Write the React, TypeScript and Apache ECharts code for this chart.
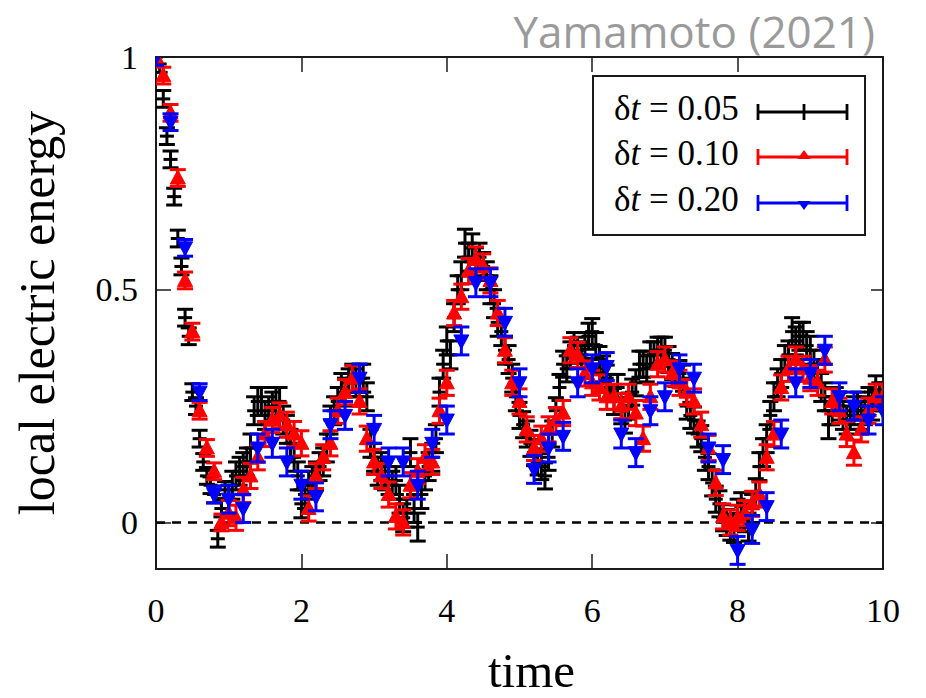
import React, { useEffect, useRef } from "react";
import * as echarts from "echarts";

// ---- data ----
const xTicks = [0, 2, 4, 6, 8, 10];
const yTicks = [0, 0.5, 1];

const blackStep = 0.05;
const blackValues = [
  1.0, 0.985, 0.91, 0.83, 0.78, 0.7, 0.61, 0.55, 0.44, 0.4,
  0.28, 0.25, 0.18, 0.13, 0.1, 0.08, 0.06, -0.035, 0.03, 0.07,
  0.05, 0.08, 0.1, 0.11, 0.12, 0.13, 0.16, 0.24, 0.26, 0.26,
  0.23, 0.24, 0.25, 0.26, 0.26, 0.22, 0.2, 0.17, 0.14, 0.1,
  0.04, 0.06, 0.08, 0.09, 0.1, 0.12, 0.13, 0.16, 0.22, 0.24,
  0.26, 0.29, 0.28, 0.3, 0.31, 0.3, 0.31, 0.31, 0.27, 0.17,
  0.14, 0.11, 0.12, 0.1, 0.09, 0.08, 0.09, 0.05, 0.01, 0.02,
  0.15, 0.03, -0.01, 0.06, 0.1, 0.12, 0.14, 0.18, 0.28, 0.34,
  0.39, 0.36, 0.44, 0.5, 0.53, 0.6, 0.57, 0.59, 0.56, 0.57,
  0.55, 0.53, 0.5, 0.47, 0.43, 0.41, 0.37, 0.35, 0.31, 0.27,
  0.23, 0.21, 0.19, 0.17, 0.15, 0.13, 0.12, 0.1, 0.14, 0.19,
  0.24, 0.29, 0.34, 0.33, 0.36, 0.38, 0.37, 0.36, 0.38, 0.4,
  0.41, 0.38, 0.35, 0.33, 0.31, 0.29, 0.26, 0.29, 0.24, 0.22,
  0.25, 0.28, 0.3, 0.34, 0.34, 0.33, 0.36, 0.36, 0.37, 0.37,
  0.37, 0.35, 0.335, 0.32, 0.32, 0.31, 0.25, 0.23, 0.22, 0.19,
  0.18, 0.14, 0.12, 0.085, 0.05, 0.04, 0.01, 0.0, -0.01, -0.015,
  0.02, 0.034, 0.01, -0.01, 0.03, 0.064, 0.12, 0.15, 0.18, 0.23,
  0.27, 0.3, 0.32, 0.35, 0.36, 0.41, 0.39, 0.4, 0.4, 0.38,
  0.37, 0.34, 0.32, 0.29, 0.27, 0.21, 0.24, 0.26, 0.25, 0.23,
  0.22, 0.23, 0.24, 0.25, 0.23, 0.24, 0.26, 0.25, 0.285, 0.27,
  0.27,
];
const blackErrors = [0.018, 0.03, 0.03, 0.03, 0.03, 0.028, 0.028, 0.028, 0.03, 0.03];

const redStep = 0.1;
const redValues = [
  1.0, 0.96, 0.88, 0.74, 0.52, 0.41, 0.24, 0.16, 0.11, 0.0,
  0.02, 0.01, 0.07, 0.1, 0.14, 0.19, 0.22, 0.23, 0.21, 0.19,
  0.17, 0.03, 0.1, 0.14, 0.17, 0.24, 0.28, 0.31, 0.26, 0.18,
  0.13, 0.1, 0.06, 0.013, 0.0, 0.08, 0.11, 0.14, 0.13, 0.24,
  0.3, 0.45, 0.485, 0.54, 0.565, 0.55, 0.52, 0.45, 0.37, 0.3,
  0.26, 0.2, 0.16, 0.18, 0.2, 0.22, 0.235, 0.37, 0.36, 0.32,
  0.3, 0.29, 0.27, 0.27, 0.25, 0.27, 0.235, 0.18, 0.27, 0.34,
  0.35, 0.32, 0.3, 0.28, 0.26, 0.21, 0.16, 0.085, 0.013, 0.0,
  0.01, 0.02, 0.04, 0.06, 0.14, 0.19, 0.29, 0.33, 0.35, 0.33,
  0.31, 0.3, 0.35, 0.26, 0.24, 0.19, 0.15, 0.2, 0.24, 0.27,
  0.27,
];
const redErrors = [0.018, 0.027, 0.027, 0.027, 0.027, 0.027, 0.027, 0.027, 0.027, 0.027];

const blueStep = 0.2;
const blueValues = [
  1.0, 0.86, 0.59, 0.28, 0.06, 0.05, 0.03, 0.16, 0.17, 0.13,
  0.08, 0.055, 0.21, 0.23, 0.31, 0.2, 0.13, 0.13, 0.08, 0.17,
  0.22, 0.39, 0.515, 0.515, 0.43, 0.3, 0.114, 0.16, 0.185, 0.3,
  0.33, 0.335, 0.19, 0.15, 0.24, 0.27, 0.33, 0.31, 0.16, 0.135,
  -0.06, -0.015, 0.034, 0.19, 0.3, 0.32, 0.37, 0.27, 0.25, 0.22,
  0.24,
];
const blueErrors = [0.018, 0.03, 0.03, 0.03, 0.03, 0.03, 0.03, 0.03, 0.03, 0.03];

const legendLabels = ["0.05", "0.10", "0.20"];
const titleText = "Yamamoto (2021)";

const BLACK = "#000000";
const RED = "#ff0000";
const BLUE = "#0000ff";
const SERIF = "'Liberation Serif', 'Times New Roman', serif";

function buildData(values: number[], step: number, errs: number[]) {
  return values.map((v, i) => {
    const t = +(i * step).toFixed(3);
    const seg = Math.min(errs.length - 1, Math.floor(t));
    return [t, v, errs[seg]];
  });
}

function makeRender(color: string, marker: string) {
  return (params: any, api: any) => {
    const t = api.value(0);
    const v = api.value(1);
    const e = api.value(2);
    const p = api.coord([t, v]);
    const top = api.coord([t, v + e]);
    const bot = api.coord([t, v - e]);
    const hw = 8;
    const style = { stroke: color, lineWidth: 3, fill: null };
    const children: any[] = [
      { type: "line", shape: { x1: p[0], y1: top[1], x2: p[0], y2: bot[1] }, style },
      { type: "line", shape: { x1: p[0] - hw, y1: top[1], x2: p[0] + hw, y2: top[1] }, style },
      { type: "line", shape: { x1: p[0] - hw, y1: bot[1], x2: p[0] + hw, y2: bot[1] }, style },
    ];
    if (marker === "plus") {
      children.push({ type: "line", shape: { x1: p[0] - 7, y1: p[1], x2: p[0] + 7, y2: p[1] }, style });
    } else if (marker === "up") {
      children.push({
        type: "polygon",
        shape: { points: [[p[0], p[1] - 8], [p[0] - 7.5, p[1] + 6], [p[0] + 7.5, p[1] + 6]] },
        style: { fill: color, stroke: color, lineWidth: 1 },
      });
    } else if (marker === "down") {
      children.push({
        type: "polygon",
        shape: { points: [[p[0], p[1] + 8], [p[0] - 7.5, p[1] - 6], [p[0] + 7.5, p[1] - 6]] },
        style: { fill: color, stroke: color, lineWidth: 1 },
      });
    }
    return { type: "group", children };
  };
}

function legendRow(y: number, label: string, color: string, marker: string) {
  const x1 = 758;
  const x2 = 847;
  const xm = 804;
  const st = { stroke: color, lineWidth: 2.8 };
  const items: any[] = [
    {
      type: "text",
      left: 614,
      top: y - 21,
      style: {
        text: "{d|δ}{i|t}{d| = " + label + "}",
        rich: {
          d: { fontFamily: SERIF, fontSize: 35, fill: "#000" },
          i: { fontFamily: SERIF, fontSize: 35, fontStyle: "italic", fill: "#000" },
        },
      },
    },
    { type: "line", shape: { x1, y1: y, x2, y2: y }, style: st },
    { type: "line", shape: { x1, y1: y - 8, x2: x1, y2: y + 8 }, style: st },
    { type: "line", shape: { x1: x2, y1: y - 8, x2, y2: y + 8 }, style: st },
  ];
  if (marker === "plus") {
    items.push({ type: "line", shape: { x1: xm, y1: y - 8, x2: xm, y2: y + 8 }, style: st });
  } else if (marker === "up") {
    items.push({ type: "polygon", shape: { points: [[xm, y - 7], [xm - 6.5, y + 2], [xm + 6.5, y + 2]] }, style: { fill: color } });
  } else {
    items.push({ type: "polygon", shape: { points: [[xm, y + 7], [xm - 6.5, y - 2], [xm + 6.5, y - 2]] }, style: { fill: color } });
  }
  return items;
}

export default function App() {
  const ref = useRef<HTMLDivElement>(null);
  useEffect(() => {
    if (!ref.current) return;
    const chart = echarts.init(ref.current, null, { renderer: "svg" });
    const axisLineStyle = { color: "#1a1a1a", width: 2 };
    const option: any = {
      animation: false,
      backgroundColor: "#ffffff",
      title: {
        text: titleText,
        right: 46,
        top: 4,
        textStyle: { color: "#9a9a9a", fontSize: 44, fontFamily: "'Open Sans', 'Noto Sans', sans-serif", fontWeight: "normal" },
      },
      grid: { left: 156, right: 43, top: 57, bottom: 129, containLabel: false, outerBoundsMode: "none" },
      xAxis: [
        {
          type: "value",
          min: 0,
          max: 10,
          interval: 2,
          position: "bottom",
          name: "time",
          nameLocation: "middle",
          nameGap: 77,
          nameTextStyle: { fontFamily: SERIF, fontSize: 49, color: "#000", padding: [0, 0, 0, 24] },
          axisLine: { show: true, onZero: false, lineStyle: axisLineStyle },
          axisTick: { show: true, inside: true, length: 15, lineStyle: { color: "#1a1a1a", width: 1.5 }, customValues: xTicks },
          axisLabel: { margin: 24, fontFamily: SERIF, fontSize: 34, color: "#000", customValues: xTicks },
          splitLine: { show: false },
        },
        {
          type: "value",
          min: 0,
          max: 10,
          interval: 2,
          position: "top",
          axisLine: { show: true, onZero: false, lineStyle: axisLineStyle },
          axisTick: { show: true, inside: true, length: 15, lineStyle: { color: "#1a1a1a", width: 1.5 } },
          axisLabel: { show: false },
          splitLine: { show: false },
        },
      ],
      yAxis: [
        {
          type: "value",
          min: -0.1,
          max: 1,
          position: "left",
          name: "local electric energy",
          nameLocation: "middle",
          nameGap: 94,
          nameTextStyle: { fontFamily: SERIF, fontSize: 50, color: "#000" },
          axisLine: { show: true, onZero: false, lineStyle: axisLineStyle },
          axisTick: { show: true, inside: true, length: 15, lineStyle: { color: "#1a1a1a", width: 1.5 }, customValues: yTicks },
          axisLabel: { margin: 18, fontFamily: SERIF, fontSize: 34, color: "#000", padding: [6, 0, 0, 0], customValues: yTicks },
          splitLine: { show: false },
        },
        {
          type: "value",
          min: -0.1,
          max: 1,
          position: "right",
          axisLine: { show: true, onZero: false, lineStyle: axisLineStyle },
          axisTick: { show: true, inside: true, length: 12, lineStyle: { color: "#1a1a1a", width: 1.5 }, customValues: yTicks },
          axisLabel: { show: false },
          splitLine: { show: false },
        },
      ],
      series: [
        {
          type: "line",
          data: [[0, 0], [10, 0]],
          symbol: "none",
          silent: true,
          lineStyle: { color: "#000", width: 2.5, type: [9, 7] },
          z: 1,
        },
        {
          type: "custom",
          name: "dt=0.05",
          renderItem: makeRender(BLACK, "plus"),
          data: buildData(blackValues, blackStep, blackErrors),
          clip: true,
          z: 2,
        },
        {
          type: "custom",
          name: "dt=0.10",
          renderItem: makeRender(RED, "up"),
          data: buildData(redValues, redStep, redErrors),
          clip: true,
          z: 3,
        },
        {
          type: "custom",
          name: "dt=0.20",
          renderItem: makeRender(BLUE, "down"),
          data: buildData(blueValues, blueStep, blueErrors),
          clip: true,
          z: 4,
        },
      ],
      graphic: [
        {
          type: "group",
          z: 100,
          children: [
            {
              type: "rect",
              shape: { x: 593, y: 76, width: 272, height: 159 },
              style: { fill: "#ffffff", stroke: "#1a1a1a", lineWidth: 2 },
            },
            ...legendRow(112, legendLabels[0], BLACK, "plus"),
            ...legendRow(157, legendLabels[1], RED, "up"),
            ...legendRow(203, legendLabels[2], BLUE, "down"),
          ],
        },
      ],
    };
    chart.setOption(option);
    return () => chart.dispose();
  }, []);
  return (
    <div
      ref={ref}
      style={{ position: "fixed", left: 0, top: 0, width: 926, height: 698, background: "#fff" }}
    />
  );
}
